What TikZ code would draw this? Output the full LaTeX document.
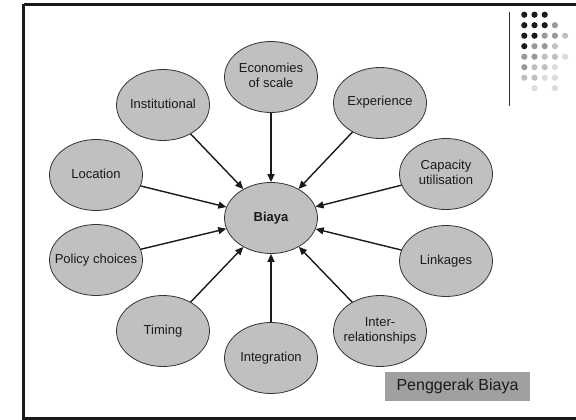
\documentclass[tikz,border=0pt]{standalone}
\usepackage{fontspec}
\setmainfont{Liberation Sans}
\usetikzlibrary{shapes.geometric,arrows.meta}
\definecolor{ovalfill}{HTML}{C0C0C0}
\definecolor{ovaledge}{HTML}{333333}
\definecolor{labelfill}{HTML}{A0A0A0}
\definecolor{inkdark}{HTML}{1A1A1A}
\definecolor{dotK}{HTML}{1A1A1A}
\definecolor{dotM}{HTML}{999999}
\definecolor{dotL}{HTML}{C0C0C0}
\definecolor{dotV}{HTML}{DCDCDC}
\def\skipmark{N}
% label set in a zero-width box so every oval keeps the same size
\newcommand\ovaltext[1]{\makebox[0pt][c]{\begin{tabular}{@{}c@{}}#1\end{tabular}}}
\tikzset{
  driver/.style={ellipse, draw=ovaledge, line width=0.8pt, fill=ovalfill,
    minimum width=93pt, minimum height=71pt, inner sep=0pt,
    text=inkdark, font=\fontsize{13}{15}\selectfont},
  hub/.style={driver, font=\fontsize{13}{15}\selectfont\bfseries},
  feed/.style={line width=1.4pt, draw=inkdark,
    -{Triangle[length=8pt,width=7pt]}},
  dot/.style={circle, inner sep=0pt, minimum size=6.2pt}
}
\begin{document}
\begin{tikzpicture}[x=1pt,y=-1pt]
\useasboundingbox (0,0) rectangle (576,420);
\fill[white] (0,0) rectangle (576,420);
% slide frame (right side runs off the page)
\draw[inkdark, line width=2.6pt] (23.5,4.3) -- (600,4.3);
\draw[inkdark, line width=2.6pt] (23.5,4.3) -- (23.5,418.5) -- (600,418.5);

% corner ornament: rule and dot grid
\draw[ovaledge, line width=1pt] (509,12) -- (509,106);
\foreach \row/\cols in {0/{K,K,K},1/{K,K,K,M},2/{K,K,M,M,L},3/{K,M,M,L},
                        4/{M,M,L,L,V},5/{M,L,L,V},6/{L,L,V,V},7/{N,V,N,V}}{
  \foreach \c [count=\i from 0] in \cols {
    \ifx\c\skipmark\else
      \node[dot, fill=dot\c] at ({524.3+10.2*\i},{14.7+10.5*\row}) {};
    \fi
  }
}

% central cost node and its drivers
\node[hub] (cost) at (271,218) {\ovaltext{Biaya}};
\node[driver] (scale) at (271,77) {\ovaltext{Economies\\of scale}};
\node[driver] (exper) at (380,103) {\ovaltext{Experience}};
\node[driver] (capac) at (446,174) {\ovaltext{Capacity\\utilisation}};
\node[driver] (links) at (446,261) {\ovaltext{Linkages}};
\node[driver] (inter) at (380,331) {\ovaltext{Inter-\\relationships}};
\node[driver] (integ) at (271,358) {\ovaltext{Integration}};
\node[driver] (timing) at (163,331) {\ovaltext{Timing}};
\node[driver] (policy) at (96,260) {\ovaltext{Policy choices}};
\node[driver] (locat) at (96,175) {\ovaltext{Location}};
\node[driver] (instit) at (163,105) {\ovaltext{Institutional}};

\foreach \src in {scale,exper,capac,links,inter,integ,timing,policy,locat,instit}
  \draw[feed] (\src) -- (cost);

% caption tag
\node[fill=labelfill, minimum width=145pt, minimum height=29pt, inner sep=0pt,
      text=inkdark, font=\fontsize{16}{18}\selectfont] (tag) at (457.5,386.5)
      {Penggerak Biaya};
\end{tikzpicture}
\end{document}
